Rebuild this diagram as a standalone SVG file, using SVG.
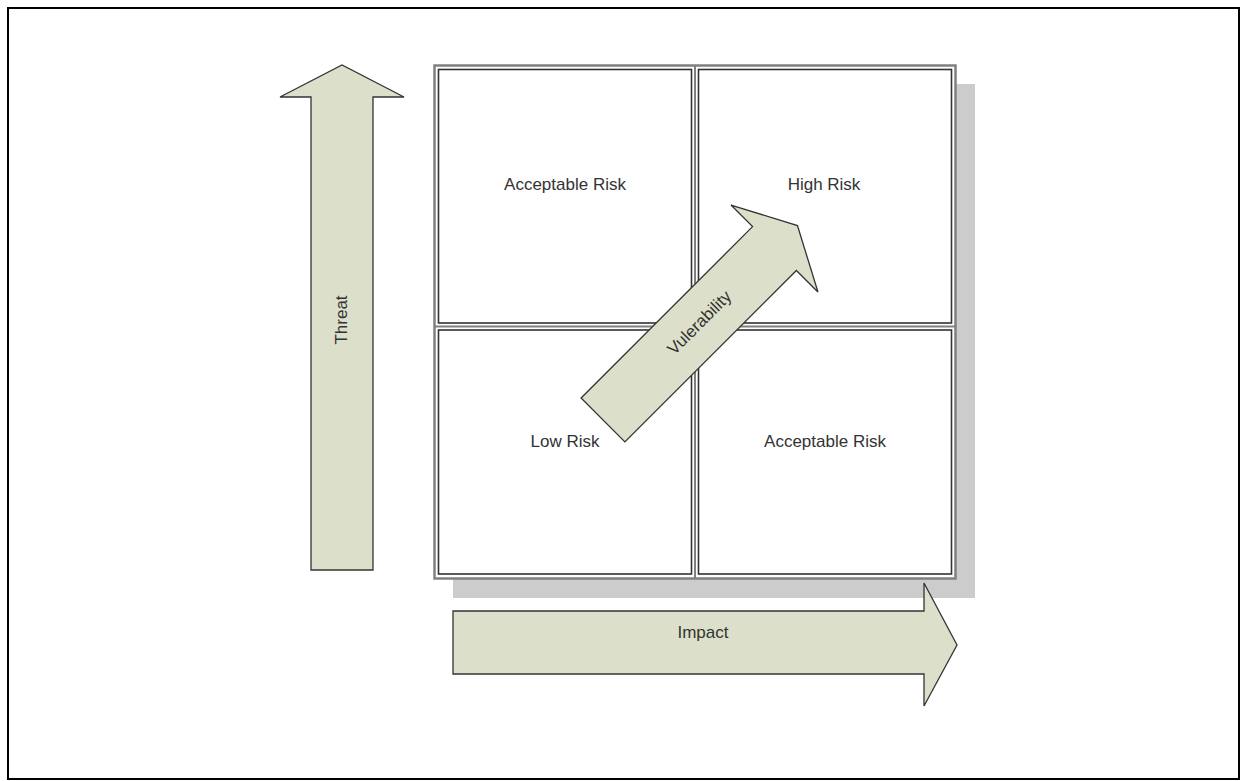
<svg xmlns="http://www.w3.org/2000/svg" width="1246" height="781" viewBox="0 0 1246 781">
<style>
.arrow{fill:#dce0ca;stroke:#333;stroke-width:1.3;stroke-linejoin:miter}
.cell{fill:#fff;stroke:#333;stroke-width:1.6}
.lbl{font-family:"Liberation Sans",Arial,sans-serif;font-size:17px;fill:#333;text-anchor:middle}
</style>
<rect x="0" y="0" width="1246" height="781" fill="#fff"/>
<rect x="8" y="8" width="1231" height="771" fill="none" stroke="#000" stroke-width="2"/>
<g id="matrix">
<rect x="453" y="84" width="522" height="514" fill="#cccccc"/>
<rect x="434.5" y="65.5" width="521" height="513" fill="#fff" stroke="#808080" stroke-width="2.5"/>
<line x1="695" y1="65" x2="695" y2="578" stroke="#808080" stroke-width="2"/>
<line x1="434" y1="326.5" x2="956" y2="326.5" stroke="#808080" stroke-width="2"/>
</g>
<g id="cell-tl"><rect class="cell" x="438.5" y="69.5" width="253" height="253.5"/><text class="lbl" x="565" y="190">Acceptable Risk</text></g>
<g id="cell-tr"><rect class="cell" x="698.5" y="69.5" width="253" height="253.5"/><text class="lbl" x="824" y="190">High Risk</text></g>
<g id="cell-bl"><rect class="cell" x="438.5" y="330" width="253" height="244"/><text class="lbl" x="565" y="447">Low Risk</text></g>
<g id="cell-br"><rect class="cell" x="698.5" y="330" width="253" height="244"/><text class="lbl" x="825" y="447">Acceptable Risk</text></g>
<g id="connectors">
<g id="threat"><polygon class="arrow" points="311,570 311,97 280,97 342,65 404,97 373,97 373,570"/><text class="lbl" transform="translate(347,320) rotate(-90)">Threat</text></g>
<g id="impact"><polygon class="arrow" points="453,611 924,611 924,583 957,645 924,706 924,674 453,674"/><text class="lbl" x="703" y="638">Impact</text></g>
<g id="vulnerability"><g transform="translate(603,420) rotate(-45)"><polygon class="arrow" points="0,-31 242.5,-31 242.5,-61.5 275,0 242.5,61.5 242.5,31 0,31"/><text class="lbl" x="137" y="5">Vulerability</text></g></g>
</g>
</svg>
